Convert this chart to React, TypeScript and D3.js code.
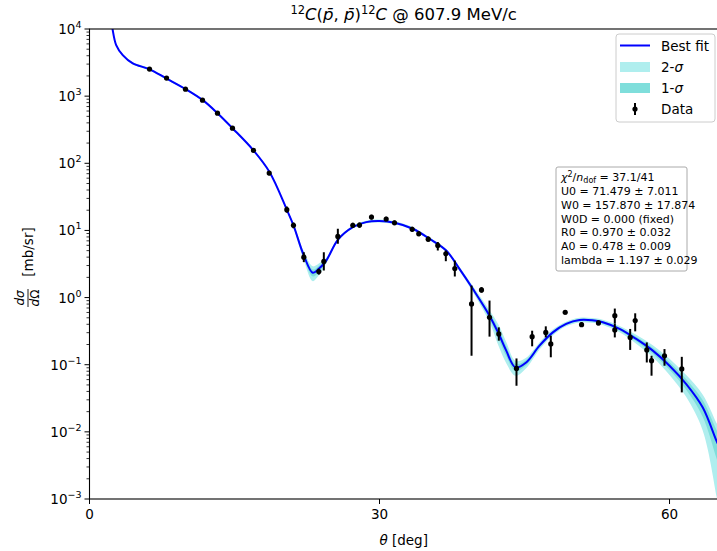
import React from 'react';
import * as d3 from 'd3';

// fit curve nodes (theta in deg, dsigma/dOmega in mb/sr)
const fitTheta = [2.2, 2.35, 2.76, 3.44, 4.48, 6.21, 7.93, 10.0, 11.72, 13.27, 14.82, 16.89, 18.62, 20.41, 21.1, 22.17, 23.1, 23.72, 24.49, 25.69, 27.24, 28.62, 30.0, 31.55, 33.44, 35.17, 36.9, 38.27, 39.65, 41.38, 42.34, 43.11, 44.07, 45.17, 46.55, 47.93, 49.31, 50.69, 52.0, 53.1, 54.83, 56.55, 58.27, 60.0, 61.73, 63.44, 64.86, 65.2];
const fitValue = [14000, 10600, 5770, 4090, 3080, 2510, 1840, 1260, 871, 552, 330, 160, 74.1, 20.4, 11.9, 4.24, 2.34, 2.68, 3.56, 7.26, 11.2, 13.3, 13.8, 13.0, 10.6, 7.52, 5.02, 2.68, 1.35, 0.538, 0.287, 0.162, 0.0912, 0.108, 0.192, 0.303, 0.405, 0.462, 0.458, 0.428, 0.341, 0.242, 0.162, 0.0966, 0.0515, 0.0231, 0.00735, 0.0058];
// relative band half-widths
const rel2 = [0.04, 0.04, 0.04, 0.04, 0.04, 0.04, 0.04, 0.04, 0.04, 0.04, 0.04, 0.04, 0.04, 0.05, 0.07, 0.15, 0.25, 0.2, 0.1, 0.06, 0.05, 0.05, 0.05, 0.05, 0.05, 0.05, 0.05, 0.07, 0.1, 0.2, 0.35, 0.35, 0.25, 0.18, 0.12, 0.1, 0.08, 0.08, 0.08, 0.09, 0.11, 0.15, 0.2, 0.27, 0.36, 0.55, 0.85, 0.9];
const rel1 = [0.02, 0.02, 0.02, 0.02, 0.02, 0.02, 0.02, 0.02, 0.02, 0.02, 0.02, 0.02, 0.02, 0.025, 0.035, 0.07, 0.12, 0.1, 0.05, 0.03, 0.025, 0.025, 0.025, 0.025, 0.025, 0.025, 0.025, 0.035, 0.05, 0.1, 0.17, 0.17, 0.12, 0.09, 0.06, 0.05, 0.04, 0.04, 0.04, 0.045, 0.055, 0.075, 0.1, 0.13, 0.18, 0.28, 0.45, 0.5];

// data
const dataTheta = [6.21, 7.97, 9.93, 11.69, 13.24, 14.79, 16.96, 18.59, 20.41, 21.1, 22.17, 23.72, 24.24, 25.69, 27.24, 27.93, 29.17, 30.69, 31.55, 33.38, 34.06, 35.04, 36.03, 36.86, 37.79, 39.52, 40.55, 41.38, 42.34, 44.17, 45.79, 47.2, 47.72, 49.21, 50.9, 52.65, 54.34, 54.34, 55.93, 56.45, 57.65, 58.14, 59.48, 61.27];
const dataValue = [2530, 1860, 1270, 871, 557, 333, 156, 71.6, 20.4, 11.9, 3.99, 2.44, 3.45, 8.13, 11.9, 12.0, 15.8, 14.8, 13.0, 10.4, 8.93, 7.41, 5.97, 4.49, 2.71, 0.805, 1.3, 0.508, 0.287, 0.088, 0.262, 0.303, 0.204, 0.604, 0.395, 0.419, 0.538, 0.33, 0.255, 0.454, 0.166, 0.115, 0.136, 0.0865];
const dataLow = [2420, 1780, 1210, 830, 530, 316, 148, 66.5, 18.3, 10.8, 3.37, 2.2, 2.53, 6.33, 10.9, 11.0, 14.6, 13.7, 12.1, 9.6, 8.2, 6.8, 5.02, 3.48, 2.06, 0.136, 1.18, 0.262, 0.228, 0.0486, 0.188, 0.255, 0.129, 0.56, 0.365, 0.385, 0.409, 0.255, 0.166, 0.314, 0.108, 0.0686, 0.0966, 0.0387];
const dataHigh = [2640, 1940, 1330, 912, 584, 350, 164, 77, 22.7, 13.1, 4.74, 2.7, 4.74, 10.6, 13.0, 13.1, 17.1, 16.0, 14.0, 11.3, 9.7, 8.1, 6.7, 5.02, 3.56, 1.51, 1.43, 0.902, 0.36, 0.124, 0.321, 0.373, 0.271, 0.65, 0.43, 0.455, 0.686, 0.409, 0.341, 0.583, 0.215, 0.136, 0.171, 0.131];

const xTicks = [0, 30, 60];
const yExps = [-3, -2, -1, 0, 1, 2, 3, 4];

const statLines = [
  'U0 = 71.479 \u00b1 7.011',
  'W0 = 157.870 \u00b1 17.874',
  'W0D = 0.000 (fixed)',
  'R0 = 0.970 \u00b1 0.032',
  'A0 = 0.478 \u00b1 0.009',
  'lambda = 1.197 \u00b1 0.029',
];

const W = 717, H = 551;
const m = { left: 89.5, top: 29, bottom: 499 };
const font = 'DejaVu Sans, sans-serif';

export default function App() {
  const x = d3.scaleLinear().domain([0, 65]).range([m.left, m.left + 65 * 9.667]);
  const y = d3.scaleLog().domain([1e-3, 1e4]).range([m.bottom, m.top]);
  const right = x(65);

  const idx = fitTheta.map((_, i) => i);
  const smooth = d3.curveCatmullRom.alpha(0.5);
  const line = d3.line<number>().x(i => x(fitTheta[i])).y(i => y(fitValue[i])).curve(smooth);
  const band = (rel: number[]) =>
    d3.area<number>()
      .x(i => x(fitTheta[i]))
      .y0(i => y(Math.max(fitValue[i] * (1 - rel[i]), 1e-6)))
      .y1(i => y(fitValue[i] * (1 + rel[i])))
      .curve(smooth)(idx) || '';

  const minor: number[] = [];
  for (let e = -3; e < 4; e++) for (let k = 2; k < 10; k++) minor.push(k * Math.pow(10, e));

  return (
    <svg width={W} height={H} style={{ position: 'absolute', left: 0, top: 0, background: '#fff' }} fontFamily={font}>
      <defs>
        <clipPath id="plot"><rect x={m.left} y={m.top} width={right - m.left} height={m.bottom - m.top} /></clipPath>
      </defs>

      <g clipPath="url(#plot)">
        <path d={band(rel2)} fill="#afeeee" />
        <path d={band(rel1)} fill="#7fdedb" />
        <path d={line(idx) || ''} fill="none" stroke="#0000ff" strokeWidth={2} />
        {dataTheta.map((t, i) => (
          <g key={i}>
            <line x1={x(t)} x2={x(t)} y1={y(dataLow[i])} y2={y(dataHigh[i])} stroke="#000" strokeWidth={2} />
            <circle cx={x(t)} cy={y(dataValue[i])} r={2.6} fill="#000" />
          </g>
        ))}
      </g>

      {/* axes frame */}
      <rect x={m.left} y={m.top} width={right - m.left} height={m.bottom - m.top} fill="none" stroke="#000" strokeWidth={1.1} />

      {/* x ticks */}
      {xTicks.map(t => (
        <g key={t}>
          <line x1={x(t)} x2={x(t)} y1={m.bottom} y2={m.bottom + 5} stroke="#000" strokeWidth={1} />
          <text x={x(t)} y={m.bottom + 20} fontSize={13.5} textAnchor="middle">{t}</text>
        </g>
      ))}
      <text x={(m.left + right) / 2} y={545} fontSize={13.5} textAnchor="middle">
        <tspan fontStyle="italic">{'\u03b8'}</tspan> [deg]
      </text>

      {/* y ticks */}
      {minor.map((v, i) => (
        <line key={i} x1={m.left - 3} x2={m.left} y1={y(v)} y2={y(v)} stroke="#000" strokeWidth={0.8} />
      ))}
      {yExps.map(e => (
        <g key={e}>
          <line x1={m.left - 5} x2={m.left} y1={y(Math.pow(10, e))} y2={y(Math.pow(10, e))} stroke="#000" strokeWidth={1} />
          <text x={m.left - 8} y={y(Math.pow(10, e)) + 5} fontSize={13.5} textAnchor="end">
            10<tspan dy={-6} fontSize={9.5}>{e < 0 ? '\u2212' + Math.abs(e) : e}</tspan>
          </text>
        </g>
      ))}

      {/* y label */}
      <g transform="translate(28,263) rotate(-90)">
        <text x={-35} y={-4} fontSize={12} textAnchor="middle" fontStyle="italic">d{'\u03c3'}</text>
        <line x1={-44} x2={-26} y1={0} y2={0} stroke="#000" strokeWidth={0.9} />
        <text x={-35} y={11} fontSize={12} textAnchor="middle"><tspan fontStyle="italic">d</tspan>{'\u03a9'}</text>
        <text x={11} y={5} fontSize={13.5} textAnchor="middle">[mb/sr]</text>
      </g>

      {/* title */}
      <text x={(m.left + right) / 2} y={20} fontSize={16.5} textAnchor="middle">
        <tspan dy={-6} fontSize={11.5}>12</tspan>
        <tspan dy={6} fontStyle="italic">C</tspan>(<tspan fontStyle="italic">{'p\u0304'}</tspan>, <tspan fontStyle="italic">{'p\u0304'}</tspan>)
        <tspan dy={-6} fontSize={11.5}>12</tspan>
        <tspan dy={6} fontStyle="italic">C</tspan> @ 607.9 MeV/c
      </text>

      {/* legend */}
      <g fontSize={13.5}>
        <rect x={616} y={34} width={99} height={88} rx={3} fill="#fff" fillOpacity={0.85} stroke="#ccc" />
        <line x1={620} x2={650} y1={45.5} y2={45.5} stroke="#0000ff" strokeWidth={2} />
        <text x={661} y={50.5}>Best fit</text>
        <rect x={620} y={62} width={30} height={10} fill="#afeeee" />
        <text x={661} y={71.5}>2-<tspan fontStyle="italic">{'\u03c3'}</tspan></text>
        <rect x={620} y={83} width={30} height={10} fill="#7fdedb" />
        <text x={661} y={92.5}>1-<tspan fontStyle="italic">{'\u03c3'}</tspan></text>
        <line x1={635} x2={635} y1={103} y2={115} stroke="#000" strokeWidth={2} />
        <circle cx={635} cy={109} r={2.6} fill="#000" />
        <text x={661} y={114}>Data</text>
      </g>

      {/* fit stats box */}
      <g fontSize={11}>
        <rect x={556} y={167} width={131} height={104} rx={2} fill="#fff" stroke="#aaa" />
        <text x={561} y={181}>
          <tspan fontStyle="italic">{'\u03c7'}</tspan><tspan dy={-4} fontSize={8}>2</tspan>
          <tspan dy={4}>/</tspan><tspan fontStyle="italic">n</tspan><tspan dy={2} fontSize={8}>dof</tspan>
          <tspan dy={-2}> = 37.1/41</tspan>
        </text>
        {statLines.map((s, i) => (
          <text key={i} x={561} y={195 + i * 13.8}>{s}</text>
        ))}
      </g>
    </svg>
  );
}
